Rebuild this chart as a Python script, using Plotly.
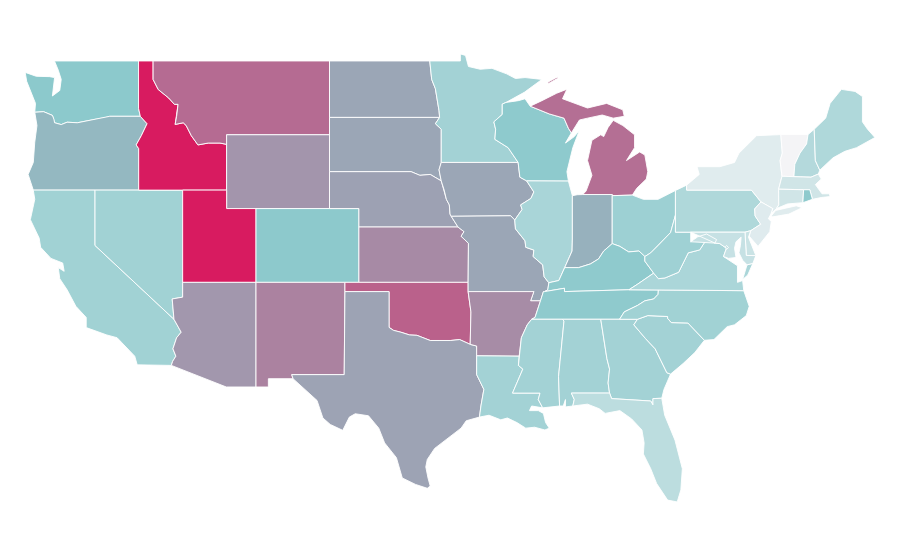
import plotly.graph_objects as go
from plotly.colors import sample_colorscale

# Choropleth values (0 = lowest, 1 = highest)
states = ["WA","OR","CA","NV","ID","MT","WY","UT","AZ","CO","NM","ND","SD","NE","KS","OK","TX","MN","IA","MO","AR","LA","WI","IL","MI","IN","OH","KY","TN","MS","AL","GA","FL","SC","NC","VA","WV","PA","NY","VT","NH","ME","MA","CT","RI","NJ","DE","MD","DC"]
rates = [.50,.55,.40,.40,1,.77,.65,1,.645,.495,.705,.60,.60,.615,.68,.80,.61,.39,.60,.60,.675,.39,.49,.36,.76,.57,.42,.485,.485,.39,.39,.39,.27,.39,.40,.35,.41,.33,.095,0,.31,.33,.175,.175,.49,.10,.20,.22,.25]
colorscale = [[0,"#f4f4f6"],[.5,"#8cc9cc"],[1,"#d81b60"]]

# Shared boundaries (lon, lat)
columbia = [(-124.1,46.22),(-123.5,46.25),(-123.2,46.15),(-122.9,46.05),(-122.8,45.85),(-122.75,45.65),(-122.3,45.55),(-121.9,45.68),(-121.2,45.65),(-120.6,45.74),(-119.9,45.85),(-119.3,45.93),(-119.0,46.0),(-116.92,46.0)]
snake = [(-116.92,46.0),(-116.46,45.6),(-116.85,44.95),(-117.2,44.45),(-117.03,44.25),(-117.03,42.0)]
id_mt = [(-116.05,49),(-116.05,48.0),(-115.7,47.45),(-115.0,47.0),(-114.6,46.65),(-114.35,46.65),(-114.45,46.0),(-114.55,45.56),(-114.0,45.65),(-113.8,45.5),(-113.45,44.95),(-113.0,44.45),(-112.3,44.55),(-111.5,44.55),(-111.05,44.48)]
ca_az = [(-114.72,32.72),(-114.5,33.0),(-114.7,33.4),(-114.45,34.0),(-114.14,34.3),(-114.63,35.0)]
red = [(-100,34.56),(-99.7,34.4),(-99.2,34.3),(-98.6,34.15),(-98.1,34.13),(-97.2,33.85),(-96.6,33.85),(-95.8,33.85),(-95.2,33.9),(-94.48,33.64)]
tx_la = [(-94.04,33.02),(-94.04,32.0),(-93.55,31.2),(-93.7,30.6),(-93.75,30.3),(-93.85,29.7)]
mo_r1 = [(-96.45,42.5),(-96.25,42.0),(-96.1,41.5),(-95.9,41.2),(-95.85,40.7),(-95.77,40.58)]
mo_r2 = [(-95.77,40.58),(-95.31,40)]
mo_r3 = [(-95.31,40),(-94.9,39.75),(-95.1,39.5),(-94.6,39.12)]
mn_wi = [(-92.3,46.66),(-92.3,46.1),(-92.87,45.7),(-92.75,45.3),(-92.8,44.75),(-91.9,44.3),(-91.22,43.5)]
ms1 = [(-91.22,43.5),(-91.1,42.7),(-90.64,42.5)]
ms2 = [(-90.64,42.5),(-90.15,41.9),(-90.35,41.55),(-91.05,41.2),(-90.95,40.95),(-91.45,40.38)]
ms3 = [(-91.45,40.38),(-91.4,39.9),(-90.75,39.25),(-90.7,38.9),(-90.15,38.75),(-90.2,38.4),(-89.55,37.95),(-89.45,37.3),(-89.13,36.98)]
ms4 = [(-89.7,36.0),(-90.07,35.1),(-90.3,35.0)]
ms5 = [(-90.3,35.0),(-90.6,34.7),(-91.0,34.0),(-91.15,33.0)]
ms6 = [(-91.15,33.0),(-91.2,32.5),(-90.9,32.3),(-91.6,31.0)]
ohio1 = [(-82.6,38.4),(-83.0,38.7),(-83.7,38.65),(-84.3,38.95),(-84.82,39.1)]
ohio2 = [(-84.82,39.1),(-85.4,38.7),(-85.75,38.27),(-86.3,38.0),(-87.1,37.8),(-88.05,37.8)]
ohio3 = [(-88.05,37.8),(-88.45,37.1),(-89.13,36.98)]
ohio_wv = [(-80.52,40.64),(-80.85,39.7),(-81.7,39.0),(-82.2,38.6),(-82.6,38.4)]
ky_wv = [(-82.6,38.4),(-82.6,38.15),(-82.0,37.5)]
ky_va = [(-82.0,37.5),(-83.1,36.9),(-83.68,36.6)]
va_wv = [(-82.0,37.5),(-81.68,37.2),(-81.23,37.24),(-80.3,37.55),(-79.65,38.6),(-78.87,38.76),(-78.35,39.4),(-77.83,39.13)]
nc_tn = [(-81.68,36.59),(-81.7,36.35),(-82.0,36.1),(-82.6,36.0),(-83.1,35.75),(-84.0,35.4),(-84.32,35.0)]
nc_sc = [(-83.1,35.0),(-82.4,35.2),(-81.05,35.15),(-81.05,35.05),(-80.8,34.82),(-79.67,34.8),(-78.55,33.86)]
ga_sc = [(-83.1,35.0),(-83.35,34.7),(-82.55,33.95),(-81.9,33.4),(-81.4,32.6),(-81.1,32.1),(-80.85,32.03)]
ga_al = [(-85.6,35.0),(-85.18,32.87),(-85.0,32.3),(-85.1,31.55),(-85.0,31.0)]
wi_mi = [(-90.4,46.55),(-89.1,46.13),(-88.1,45.9),(-87.8,45.35),(-87.6,45.1)]
pa_nj2 = [(-74.7,41.36),(-75.13,40.98),(-75.1,40.6),(-74.72,40.15),(-75.4,39.8)]
vt_nh = [(-71.5,45.01),(-71.6,44.5),(-72.05,44.0),(-72.4,43.4),(-72.46,42.73)]
ny_vt = [(-73.35,45.01),(-73.25,44.0),(-73.4,43.6),(-73.27,42.75)]
md_va = [(-77.05,38.85),(-77.5,39.1),(-77.83,39.13)]
md_wv = [(-77.83,39.13),(-77.72,39.32),(-78.4,39.62),(-79.0,39.47),(-79.48,39.2),(-79.48,39.72)]

def rev(p):
    return p[::-1]

shapes = {
"WA":[[(-124.75,48.38),(-124.0,48.17),(-123.1,48.15),(-122.75,48.1),(-122.9,47.1),(-122.4,47.4),(-122.3,48.0),(-122.5,48.5),(-122.76,49),(-117.04,49),(-117.04,46.43),(-116.92,46.0)]+rev(columbia)[1:]+[(-124.05,46.7),(-124.2,47.0),(-124.65,47.9)]],
"OR":[columbia+snake[1:]+[(-120,42),(-124.2,42),(-124.55,42.85),(-124.2,43.5),(-124.1,44.6),(-123.95,45.5)]],
"CA":[[(-124.2,42),(-120,42),(-120,39),(-114.63,35.0)]+rev(ca_az)[1:]+[(-114.81,32.5),(-117.13,32.53),(-117.3,33.0),(-118.2,33.75),(-118.5,34.0),(-119.2,34.15),(-120.6,34.55),(-120.6,35.1),(-121.3,35.7),(-121.9,36.6),(-122.4,37.2),(-122.5,37.8),(-122.1,37.6),(-122.2,38.05),(-123.0,38.3),(-123.7,38.9),(-123.8,39.4),(-124.4,40.4),(-124.1,41.5)]],
"NV":[[(-120,42),(-114.04,42),(-114.04,36.2),(-114.75,36.1),(-114.63,35.0),(-120,39)]],
"ID":[[(-117.04,49),(-116.05,49)]+id_mt[1:]+[(-111.05,42),(-117.03,42)]+rev(snake)[1:]+[(-117.04,46.43)]],
"MT":[id_mt+[(-111.05,45),(-104.05,45),(-104.05,49)]],
"WY":[[(-111.05,45),(-104.05,45),(-104.05,41),(-111.05,41)]],
"UT":[[(-114.04,42),(-111.05,42),(-111.05,41),(-109.05,41),(-109.05,37),(-114.04,37)]],
"AZ":[[(-114.04,37),(-109.05,37),(-109.05,31.33),(-111.07,31.33),(-114.81,32.5)]+ca_az+[(-114.75,36.1),(-114.04,36.2)]],
"CO":[[(-109.05,41),(-102.05,41),(-102.05,37),(-109.05,37)]],
"NM":[[(-109.05,37),(-103.0,37),(-103.0,36.5),(-103.05,32.0),(-106.62,32.0),(-106.53,31.78),(-108.21,31.78),(-108.21,31.33),(-109.05,31.33)]],
"ND":[[(-104.05,49),(-97.23,49),(-97.1,48.0),(-96.85,47.5),(-96.6,46.3),(-96.56,45.94),(-104.05,45.94)]],
"SD":[[(-104.05,45.94),(-96.56,45.94),(-96.85,45.6),(-96.45,45.3),(-96.45,43.5),(-96.6,43.1),(-96.45,42.5),(-97.2,42.85),(-97.9,42.8),(-98.5,43),(-104.05,43)]],
"NE":[[(-104.05,43),(-98.5,43),(-97.9,42.8),(-97.2,42.85)]+mo_r1+mo_r2[1:]+[(-102.05,40),(-102.05,41),(-104.05,41)]],
"KS":[[(-102.05,40)]+mo_r3+[(-94.62,37),(-102.05,37)]],
"OK":[[(-103,37),(-94.62,37),(-94.62,36.5),(-94.43,35.4)]+rev(red)+[(-100,36.5),(-103,36.5)]],
"TX":[[(-103.0,36.5),(-100,36.5)]+red+[(-94.04,33.55)]+tx_la+[(-94.75,29.5),(-95.1,29.1),(-96.0,28.55),(-96.9,28.0),(-97.4,27.4),(-97.5,27.0),(-97.35,26.4),(-97.2,25.96),(-97.4,25.84),(-98.2,26.05),(-99.1,26.4),(-99.5,27.5),(-100.3,28.3),(-100.7,29.1),(-101.4,29.77),(-102.3,29.88),(-102.7,29.7),(-103.15,28.98),(-104.0,29.3),(-104.5,29.65),(-104.9,30.6),(-106.0,31.4),(-106.53,31.78),(-106.62,32.0),(-103.05,32.0)]],
"MN":[[(-97.23,49),(-95.15,49),(-95.15,49.38),(-94.8,49.3),(-94.6,48.7),(-93.8,48.55),(-93.0,48.6),(-92.0,48.3),(-91.4,48.05),(-90.75,48.1),(-89.6,48.0),(-90.8,47.3),(-92.05,46.75)]+mn_wi+[(-96.45,43.5),(-96.45,45.3),(-96.85,45.6),(-96.56,45.94),(-96.6,46.3),(-96.85,47.5),(-97.1,48)]],
"IA":[[(-96.45,43.5)]+ms1+ms2+[(-91.73,40.61)]+rev(mo_r1)+[(-96.6,43.1)]],
"MO":[[(-95.77,40.58),(-91.73,40.61)]+ms3+[(-89.2,36.6),(-89.42,36.5),(-89.5,36.5),(-89.7,36),(-90.37,36),(-90.15,36.5),(-94.62,36.5),(-94.62,37)]+rev(mo_r3)],
"AR":[[(-94.62,36.5),(-90.15,36.5),(-90.37,36),(-89.7,36)]+ms4[1:]+ms5[1:]+[(-94.04,33.02),(-94.04,33.55),(-94.48,33.64),(-94.43,35.4)]],
"LA":[[(-94.04,33.02)]+ms6+[(-89.73,31.0),(-89.85,30.65),(-89.55,30.2),(-90.3,30.3),(-90.45,30.05),(-89.85,30.05),(-89.5,29.9),(-89.35,29.4),(-89.1,29.1),(-89.4,29.0),(-90.1,29.15),(-90.7,29.1),(-91.3,29.4),(-91.95,29.65),(-92.4,29.55),(-93.2,29.8)]+rev(tx_la)],
"WI":[[(-92.05,46.75),(-91.2,46.85),(-90.75,46.95)]+wi_mi+[(-88.0,44.55),(-87.4,44.9),(-87.05,45.25),(-87.5,44.3),(-87.9,43.0),(-87.8,42.49),(-90.64,42.5),(-91.1,42.7)]+rev(mn_wi)],
"IL":[[(-87.53,41.7),(-87.8,42.49)]+ms2+ms3[1:]+rev(ohio3)[1:]+[(-87.55,38.7),(-87.53,39.35)]],
"MI":[wi_mi+[(-87.05,45.8),(-86.5,45.9),(-85.5,46.07),(-84.75,45.9),(-84.0,46.0),(-84.1,46.35),(-85.2,46.7),(-86.5,46.45),(-87.7,46.8),(-88.2,46.95),(-87.9,47.47),(-88.6,47.25),(-89.6,46.85)],
      [(-86.82,41.76),(-84.82,41.76),(-84.82,41.7),(-83.45,41.73),(-83.15,42.1),(-82.5,42.6),(-82.4,43.0),(-82.6,43.9),(-82.95,44.07),(-83.85,43.6),(-83.3,44.3),(-83.3,45.0),(-84.1,45.5),(-84.75,45.78),(-85.1,45.4),(-85.4,44.9),(-85.6,45.0),(-86.2,44.7),(-86.5,43.6),(-86.2,42.8),(-86.6,41.95)],
      [(-89.2,47.85),(-88.5,48.15),(-88.55,48.05),(-89.15,47.78)]],
"IN":[[(-87.53,41.7),(-87.2,41.75),(-86.82,41.76),(-84.82,41.76)]+ohio2+[(-87.55,38.7),(-87.53,39.35)]],
"OH":[[(-84.82,41.7),(-83.45,41.73),(-82.7,41.5),(-81.7,41.5),(-80.52,41.98)]+ohio_wv+ohio1],
"KY":[[(-89.42,36.5),(-88.07,36.68),(-88.07,36.5),(-83.68,36.6)]+rev(ky_va)[1:]+rev(ky_wv)[1:]+ohio1[1:]+ohio2[1:]+ohio3[1:]+[(-89.2,36.6)]],
"TN":[rev(ms4)[:-1]+[(-89.7,36),(-89.5,36.5),(-89.42,36.5),(-88.07,36.68),(-88.07,36.5),(-83.68,36.6),(-81.68,36.59)]+nc_tn+[(-85.6,35),(-88.2,35),(-90.3,35)]],
"MS":[[(-90.3,35),(-88.2,35),(-88.1,34.9),(-88.47,31.9),(-88.4,30.3),(-89.55,30.2),(-89.85,30.65),(-89.73,31)]+rev(ms6)[:-1]+rev(ms5)[:-1]],
"AL":[[(-88.2,35)]+ga_al+[(-87.6,31.0),(-87.4,30.65),(-87.5,30.3),(-88.0,30.25),(-88.0,30.65),(-88.15,30.3),(-88.4,30.3),(-88.47,31.9),(-88.1,34.9)]],
"GA":[ga_al+[(-84.86,30.7),(-82.2,30.57),(-82.05,30.36),(-82.05,30.7),(-81.45,30.72),(-81.3,31.2)]+rev(ga_sc)+[(-84.32,35)]],
"FL":[[(-87.6,31),(-85,31),(-84.86,30.7),(-82.2,30.57),(-82.05,30.36),(-82.05,30.7),(-81.45,30.72),(-81.25,29.8),(-80.55,28.45),(-80.05,26.9),(-80.15,25.75),(-80.4,25.1),(-81.05,25.2),(-81.8,26.1),(-82.2,26.9),(-82.7,27.7),(-82.65,28.3),(-82.8,29.0),(-83.5,29.6),(-84.3,30.05),(-85.3,29.9),(-85.7,30.15),(-86.5,30.4),(-87.5,30.3),(-87.4,30.65)]],
"SC":[nc_sc+[(-79.2,33.2),(-80.0,32.6)]+rev(ga_sc)],
"NC":[[(-84.32,35)]+nc_sc+[(-77.9,33.9),(-77.0,34.6),(-76.5,34.7),(-75.7,35.2),(-75.5,35.7),(-75.87,36.55),(-81.68,36.59)]+nc_tn],
"VA":[[(-83.68,36.6),(-81.68,36.59),(-75.87,36.55),(-75.95,37.1),(-76.3,37.0),(-76.3,37.9),(-77.0,38.3),(-77.25,38.4)]+md_va+rev(va_wv)+[(-83.1,36.9)],
      [(-75.95,37.15),(-75.65,37.95),(-75.25,38.03),(-75.6,37.4)]],
"WV":[ky_wv+va_wv[1:]+md_wv[1:]+[(-80.52,39.72)]+ohio_wv],
"PA":[[(-80.52,41.98),(-79.76,42.27),(-79.76,42.0),(-75.35,42.0)]+pa_nj2+[(-75.79,39.72),(-80.52,39.72)]],
"NY":[[(-79.76,42.0),(-79.76,42.27),(-78.9,42.85),(-79.05,43.27),(-77.5,43.27),(-76.5,43.5),(-76.2,44.0),(-75.0,44.95)]+ny_vt+[(-73.5,42.05),(-73.49,41.2),(-73.65,41.0),(-74.03,40.7),(-73.9,41.0),(-74.7,41.36),(-75.35,42)],
      [(-74.0,40.6),(-73.7,40.9),(-72.3,41.15),(-71.9,41.05),(-72.8,40.7),(-73.9,40.55)]],
"VT":[ny_vt+rev(vt_nh)],
"NH":[vt_nh+[(-71.3,42.7),(-70.8,42.87),(-70.7,43.08),(-71,43.6),(-71.08,45.3)]],
"ME":[[(-71.08,45.3),(-70.3,45.9),(-70.0,46.7),(-69.23,47.46),(-68.3,47.35),(-67.8,47.07),(-67.8,45.7),(-67.45,45.3),(-66.95,44.85),(-68.2,44.3),(-69.0,44.1),(-69.8,43.75),(-70.7,43.08),(-71,43.6)]],
"MA":[[(-73.5,42.05),(-73.27,42.75),(-72.46,42.73),(-71.3,42.7),(-70.8,42.87),(-70.6,42.6),(-71.0,42.3),(-70.55,41.8),(-70.05,41.8),(-70.0,41.65),(-70.6,41.6),(-71.2,41.5),(-71.38,42.02),(-71.8,42.02)]],
"CT":[[(-73.5,42.05),(-71.8,42.02),(-71.85,41.32),(-72.9,41.25),(-73.65,41.0),(-73.49,41.2)]],
"RI":[[(-71.8,42.02),(-71.38,42.02),(-71.2,41.5),(-71.85,41.32)]],
"NJ":[[(-74.7,41.36),(-73.9,41),(-74.03,40.7),(-74.2,40.45),(-74.0,40.3),(-74.1,39.75),(-74.9,38.95),(-75.5,39.5)]+rev(pa_nj2)],
"DE":[[(-75.79,39.72),(-75.4,39.8),(-75.55,39.45),(-75.05,38.45),(-75.7,38.46)]],
"MD":[[(-79.48,39.72),(-75.79,39.72),(-75.7,38.46),(-75.05,38.45),(-75.25,38.03),(-75.65,37.95),(-75.95,38.2),(-76.2,38.6),(-76.1,39.0),(-76.05,39.45),(-76.4,39.2),(-76.5,38.85),(-76.4,38.35),(-76.9,38.3),(-77.25,38.4)]+md_va+rev(md_wv)[1:]],
"DC":[[(-77.12,38.93),(-77.04,39.0),(-76.91,38.89),(-77.04,38.79)]],
}

colors = sample_colorscale(colorscale, rates)
fig = go.Figure()
for st, col in zip(states, colors):
    xs, ys = [], []
    for ring in shapes[st]:
        xs += [p[0] for p in ring] + [ring[0][0], None]
        ys += [p[1] for p in ring] + [ring[0][1], None]
    fig.add_trace(go.Scatter(x=xs, y=ys, name=st, mode="lines", fill="toself", fillcolor=col,
                             line=dict(color="white", width=0.9), hoverinfo="name", showlegend=False))
fig.update_layout(width=900, height=560, margin=dict(l=0, r=0, t=0, b=0),
                  plot_bgcolor="white", paper_bgcolor="white",
                  xaxis=dict(range=[-125.92, -64.70], visible=False),
                  yaxis=dict(range=[21.52, 51.87], visible=False))
fig.write_html("out.html")
